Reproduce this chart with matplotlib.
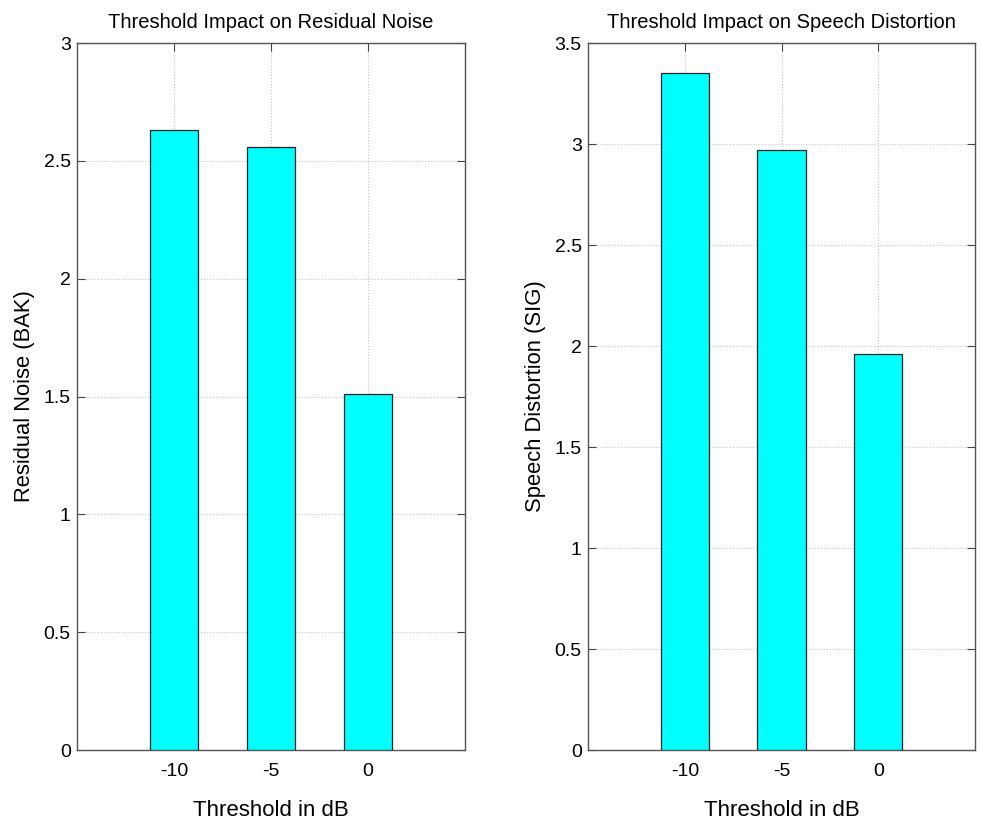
import matplotlib
matplotlib.use('Agg')
import matplotlib.pyplot as plt
import numpy as np

plt.rcParams['font.family'] = ['Liberation Sans', 'DejaVu Sans']

thresholds = ['-10', '-5', '0']
bak = [2.63, 2.56, 1.51]
sig = [3.35, 2.97, 1.96]

fig = plt.figure(figsize=(9.81, 8.24), dpi=100)
ax1 = fig.add_axes([0.0785, 0.0898, 0.3955, 0.858])
ax2 = fig.add_axes([0.5994, 0.0898, 0.3945, 0.858])


def draw(ax, vals, ymax, yticks, ylabel, title):
    x = np.arange(1, len(vals) + 1)
    ax.bar(x, vals, width=0.5, color='#00ffff', edgecolor='#222222', linewidth=0.9, zorder=3)
    ax.set_xlim(0, 4)
    ax.set_ylim(0, ymax)
    ax.set_xticks(x)
    ax.set_xticklabels(thresholds)
    ax.set_yticks(yticks)
    ax.set_yticklabels([f'{t:g}' for t in yticks])
    ax.grid(True, color='#c4c4c4', linestyle=':', linewidth=0.8, zorder=0)
    ax.tick_params(direction='in', top=True, right=True, labelsize=14, length=6,
                   color='#444444')
    ax.tick_params(axis='x', pad=9)
    ax.tick_params(axis='y', pad=4.5)
    for s in ax.spines.values():
        s.set_color('#555555')
        s.set_linewidth(1.0)
    ax.set_xlabel('Threshold in dB', fontsize=16, labelpad=15)
    ax.set_ylabel(ylabel, fontsize=15.8, labelpad=6)
    ax.set_title(title, fontsize=14.5, pad=11)


draw(ax1, bak, 3, [0, 0.5, 1, 1.5, 2, 2.5, 3], 'Residual Noise (BAK)', 'Threshold Impact on Residual Noise')
draw(ax2, sig, 3.5, [0, 0.5, 1, 1.5, 2, 2.5, 3, 3.5], 'Speech Distortion (SIG)', 'Threshold Impact on Speech Distortion')

fig.savefig('out.png', dpi=100)
